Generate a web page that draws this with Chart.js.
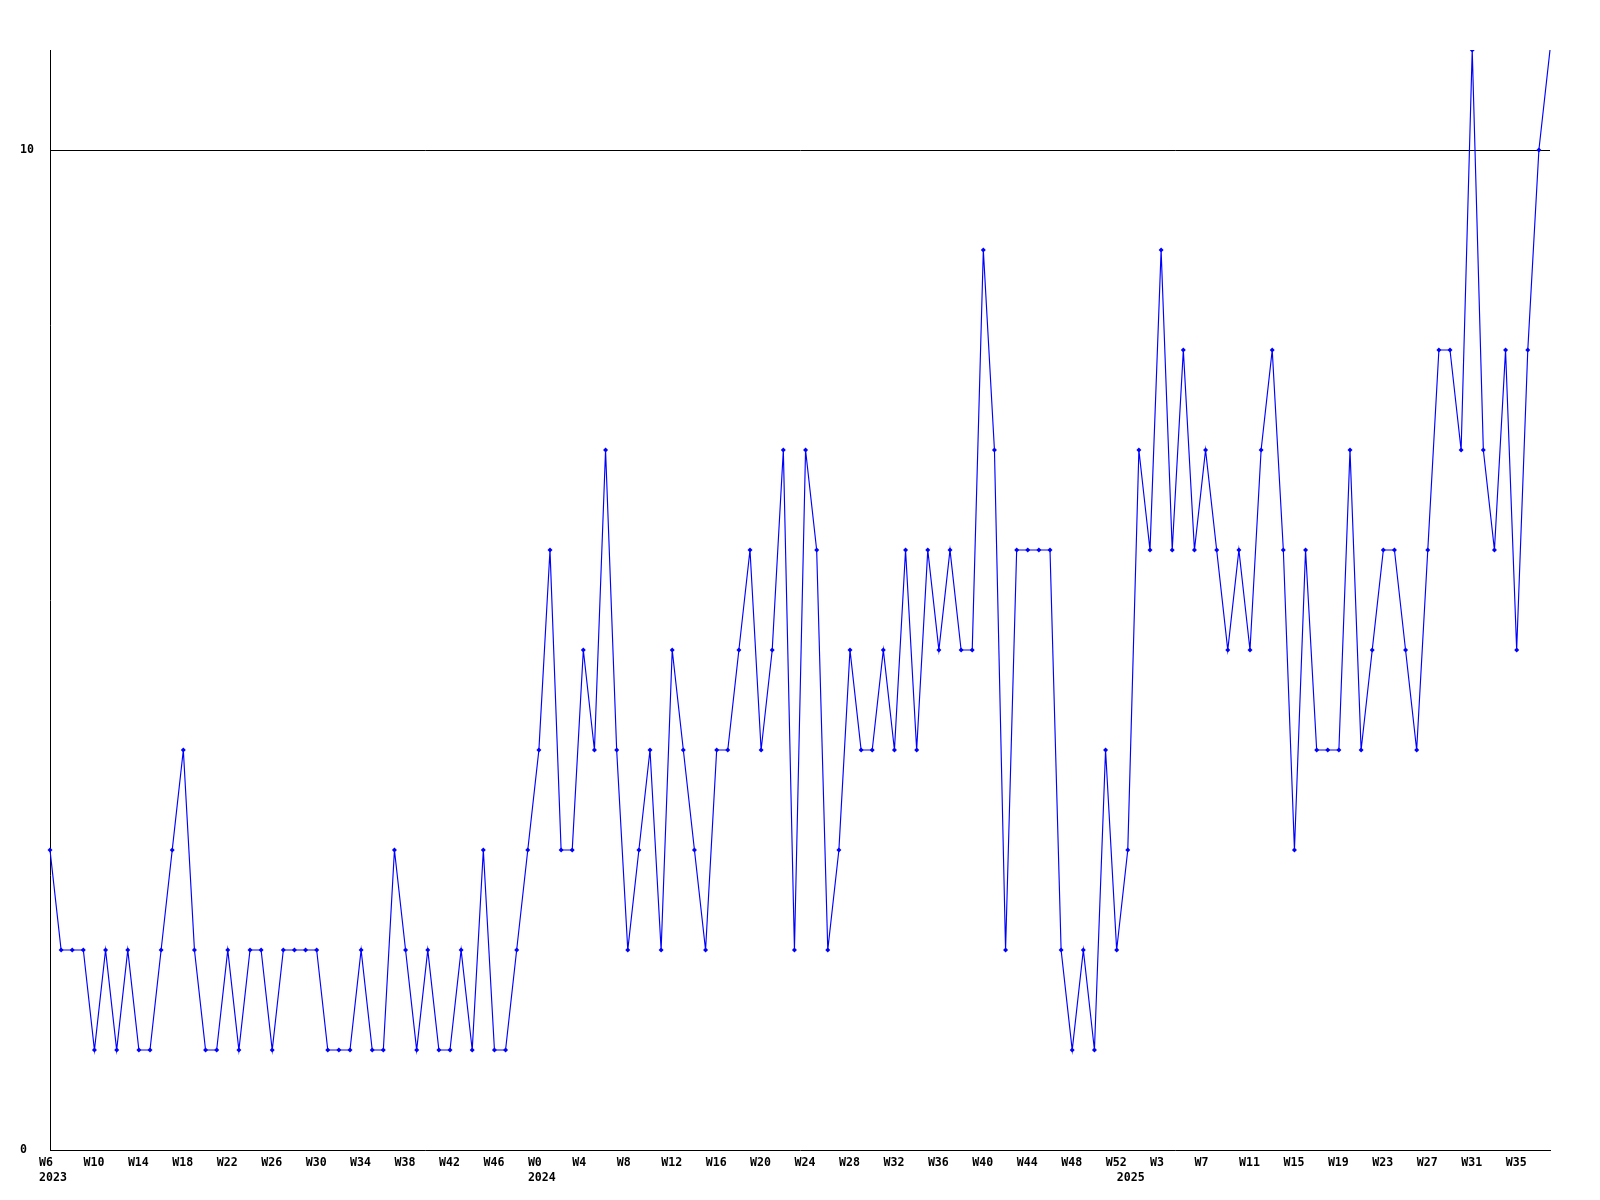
<!DOCTYPE html>
<html>
<head>
<meta charset="utf-8">
<script src="https://cdn.jsdelivr.net/npm/chart.js@4/dist/chart.umd.min.js"></script>
<style>
  html, body { margin: 0; padding: 0; background: #ffffff; }
  #wrap { width: 1600px; height: 1200px; }
</style>
</head>
<body>
<div id="wrap"><canvas id="c" width="1600" height="1200"></canvas></div>
<script>
// Week labels for each data point
const weekLabels = [
  // 2023
  'W6','W7','W8','W9','W10','W11','W12','W13','W14','W15','W16','W17','W18','W19','W20','W21',
  'W22','W23','W24','W25','W26','W27','W28','W29','W30','W31','W32','W33','W34','W35','W36','W37',
  'W38','W39','W40','W41','W42','W43','W44','W45','W46','W47','W48','W49',
  // 2024
  'W0','W1','W2','W3','W4','W5','W6','W7','W8','W9','W10','W11','W12','W13','W14','W15','W16','W17',
  'W18','W19','W20','W21','W22','W23','W24','W25','W26','W27','W28','W29','W30','W31','W32','W33',
  'W34','W35','W36','W37','W38','W39','W40','W41','W42','W43','W44','W45','W46','W47','W48','W49',
  'W50','W51','W52',
  // 2025
  'W0','W1','W2','W3','W4','W5','W6','W7','W8','W9','W10','W11','W12','W13','W14','W15','W16','W17',
  'W18','W19','W20','W21','W22','W23','W24','W25','W26','W27','W28','W29','W30','W31','W32','W33',
  'W34','W35','W36','W37','W38'
];

// Year labels, placed under the first point of each year
const yearStartIndex = [0, 44, 97];
const yearNames = ['2023', '2024', '2025'];

// Weekly values
const values = [
  3,2,2,2,1,2,1,2,1,1,2,3,4,2,1,1,2,1,2,2,1,2,2,2,2,1,1,1,2,1,1,3,2,1,2,1,1,2,1,3,1,1,2,3,4,
  6,3,3,5,4,7,4,2,3,4,2,5,4,3,2,4,4,5,6,4,5,7,2,7,6,2,3,5,4,4,5,4,6,4,6,5,6,5,5,
  9,7,2,6,6,6,6,2,1,2,1,4,2,3,7,6,9,6,8,6,7,6,5,6,5,7,8,6,3,6,4,4,4,7,4,5,6,6,5,4,6,8,8,7,11,7,6,8,5,8,10,11
];

// Y axis tick values
const yTickValues = [0, 10];
const yMin = 0;
const yMax = 11;
const labelEvery = 4;

const FONT = { family: '"DejaVu Sans Mono", "Liberation Mono", monospace', size: 11.6, weight: 'bold', lineHeight: 1.335 };

new Chart(document.getElementById('c'), {
  type: 'line',
  data: {
    labels: weekLabels,
    datasets: [{
      data: values,
      borderColor: '#0000ff',
      backgroundColor: '#0000ff',
      borderWidth: 1.15,
      tension: 0,
      fill: false,
      pointStyle: 'rectRot',
      pointRadius: (ctx) => ctx.dataIndex === values.length - 1 ? 0 : 2.5,
      pointBorderWidth: 0,
      pointBackgroundColor: '#0000ff'
    }]
  },
  options: {
    responsive: false,
    animation: false,
    devicePixelRatio: 1,
    layout: { padding: { top: 50, right: 50, left: 20, bottom: 0 } },
    plugins: { legend: { display: false }, tooltip: { enabled: false }, title: { display: false } },
    scales: {
      x: {
        type: 'category',
        offset: false,
        afterFit: (s) => { s.height = 50; },
        grid: { display: false, drawTicks: false },
        border: { display: true, color: '#000000', width: 1 },
        ticks: {
          autoSkip: false,
          maxRotation: 0,
          minRotation: 0,
          padding: 5,
          labelOffset: -11,
          align: 'start',
          color: '#000000',
          font: FONT,
          callback: function (value, index) {
            const yi = yearStartIndex.indexOf(index);
            const yr = yi >= 0 ? yearNames[yi] : '';
            if (index % labelEvery === 0) {
              return yr ? [weekLabels[index], yr] : weekLabels[index];
            }
            if (yr) return ['', yr];
            return '';
          }
        }
      },
      y: {
        min: yMin,
        max: yMax,
        afterFit: (s) => { s.width = 30; },
        afterBuildTicks: (s) => { s.ticks = yTickValues.map(v => ({ value: v })); },
        grid: {
          drawTicks: false,
          color: (ctx) => (ctx.tick && ctx.tick.value === 10) ? '#000000' : 'rgba(0,0,0,0)',
          lineWidth: 1
        },
        border: { display: true, color: '#000000', width: 1 },
        ticks: {
          crossAlign: 'far',
          padding: 0,
          color: '#000000',
          font: FONT,
          callback: (v) => String(v)
        }
      }
    }
  }
});
</script>
</body>
</html>
